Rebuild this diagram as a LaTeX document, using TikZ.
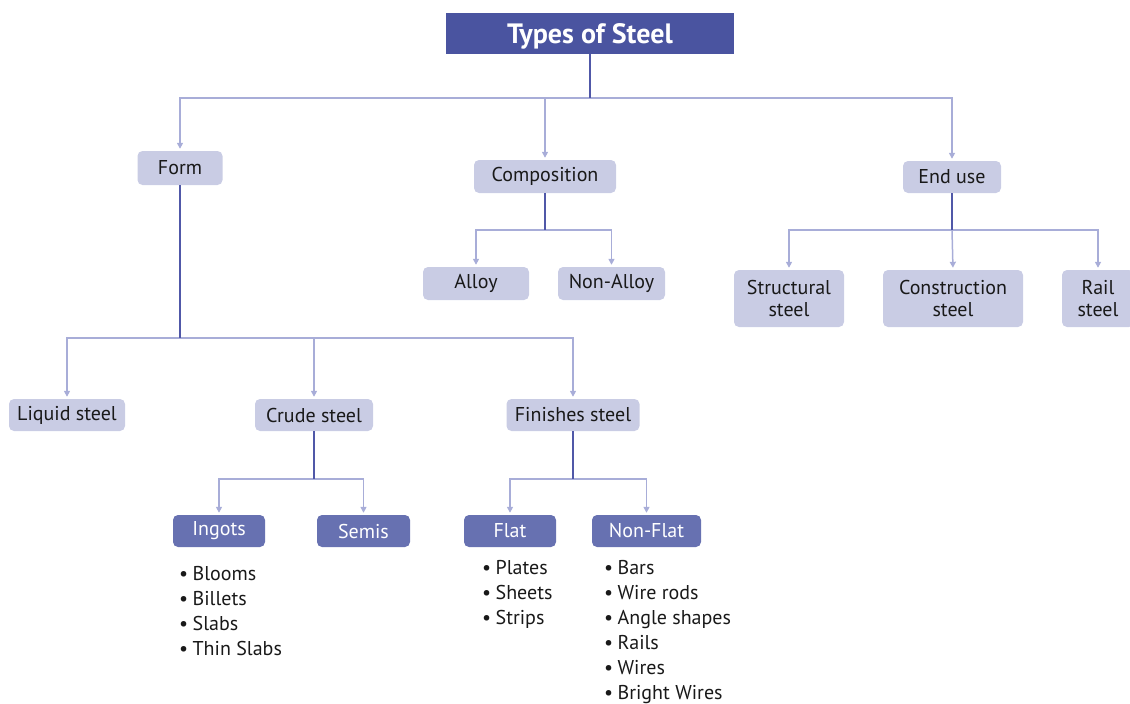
\documentclass[tikz,border=0pt]{standalone}
\usepackage{fontspec}
\setmainfont{PT Sans}
\usetikzlibrary{arrows.meta}

\definecolor{titleblue}{HTML}{4A54A0}
\definecolor{trunk}{HTML}{5058A8}
\definecolor{branch}{HTML}{A8ADD8}
\definecolor{paleBox}{HTML}{C9CCE4}
\definecolor{midBox}{HTML}{6771B1}

\tikzset{
  boxfont/.style={font=\fontsize{20}{22}\selectfont},
  catbox/.style={boxfont, fill=paleBox, rounded corners=5pt, inner sep=0pt,
    text=black!90, align=center},
  subbox/.style={boxfont, fill=midBox, rounded corners=5pt, inner sep=0pt,
    text=white, align=center},
  trunkline/.style={draw=trunk, line width=1.8pt},
  branchline/.style={draw=branch, line width=1.5pt},
  arr/.style={branchline, -{Triangle[width=6pt,length=6pt]}, shorten >=2pt},
  bullets/.style={font=\fontsize{20}{25}\selectfont, align=left, inner sep=0pt,
    anchor=north west, text=black!90},
}
\newcommand{\bl}{•\hspace{0.22em}}

\begin{document}
\begin{tikzpicture}[x=1pt, y=-1pt]
\useasboundingbox (0,0) rectangle (1130,704);

% title
\node[fill=titleblue, text=white, minimum width=288pt, minimum height=41pt,
  inner sep=0pt, text depth=0pt, font=\fontsize{28}{30}\selectfont\bfseries]
  (title) at (590,33.5) {Types of Steel};

% first level
\node[catbox, minimum width=85pt, minimum height=34pt] (form) at (180,168) {Form};
\node[catbox, minimum width=142pt, minimum height=33pt] (comp) at (545,176.5) {Composition};
\node[catbox, minimum width=98pt, minimum height=32pt] (enduse) at (952,177) {End use};

% composition
\node[catbox, minimum width=106pt, minimum height=33pt] (alloy) at (476,283.5) {Alloy};
\node[catbox, minimum width=107pt, minimum height=33pt] (nonalloy) at (611.5,283.5) {Non-Alloy};

% end use
\node[catbox, minimum width=110pt, minimum height=57pt] (struct) at (789,298.5) {Structural\\steel};
\node[catbox, minimum width=140pt, minimum height=57pt] (constr) at (953,298.5) {Construction\\steel};
\node[catbox, minimum width=72pt, minimum height=57pt] (rail) at (1098,298.5) {Rail\\steel};

% form
\node[catbox, minimum width=116pt, minimum height=32pt] (liquid) at (67,415) {Liquid steel};
\node[catbox, minimum width=118pt, minimum height=32pt] (crude) at (314,415) {Crude steel};
\node[catbox, minimum width=133pt, minimum height=32pt] (finish) at (573,415) {Finishes steel};

% crude / finished subtypes
\node[subbox, minimum width=92pt, minimum height=32pt] (ingots) at (219,531) {Ingots};
\node[subbox, minimum width=93pt, minimum height=32pt] (semis) at (363.5,531) {Semis};
\node[subbox, minimum width=92pt, minimum height=32pt] (flat) at (510,531) {Flat};
\node[subbox, minimum width=109pt, minimum height=32pt] (nonflat) at (646.5,531) {Non-Flat};

% bullet lists
\node[bullets] (ingotsList) at (179,566) {\bl Blooms\\\bl Billets\\\bl Slabs\\\bl Thin Slabs};
\node[bullets] (flatList) at (482,560) {\bl Plates\\\bl Sheets\\\bl Strips};
\node[bullets] (nonflatList) at (604,560) {\bl Bars\\\bl Wire rods\\\bl Angle shapes\\\bl Rails\\\bl Wires\\\bl Bright Wires};

% connectors
\coordinate (bus0) at (0,98);
\coordinate (bus1) at (0,230);
\coordinate (bus2) at (0,338);
\coordinate (bus3) at (0,479);

\draw[arr] (title.south |- bus0) -| (form.north);
\draw[arr] (title.south |- bus0) -| (comp.north);
\draw[arr] (title.south |- bus0) -| (enduse.north);
\draw[trunkline] (title.south) -- (title.south |- bus0);

\draw[arr] (comp.south |- bus1) -| (alloy.north);
\draw[arr] (comp.south |- bus1) -| (nonalloy.north);
\draw[trunkline] (comp.south) -- (comp.south |- bus1);

\draw[arr] (enduse.south |- bus1) -| (struct.north);
\draw[arr] (enduse.south |- bus1) -| (rail.north);
\draw[arr] (enduse.south |- bus1) -- (constr.north);
\draw[trunkline] (enduse.south) -- (enduse.south |- bus1);

\draw[arr] (form.south |- bus2) -| (liquid.north);
\draw[arr] (form.south |- bus2) -| (crude.north);
\draw[arr] (form.south |- bus2) -| (finish.north);
\draw[trunkline] (form.south) -- (form.south |- bus2);

\draw[arr] (crude.south |- bus3) -| (ingots.north);
\draw[arr] (crude.south |- bus3) -| (semis.north);
\draw[trunkline] (crude.south) -- (crude.south |- bus3);

\draw[arr] (finish.south |- bus3) -| (flat.north);
\draw[arr] (finish.south |- bus3) -| (nonflat.north);
\draw[trunkline] (finish.south) -- (finish.south |- bus3);
\end{tikzpicture}
\end{document}
